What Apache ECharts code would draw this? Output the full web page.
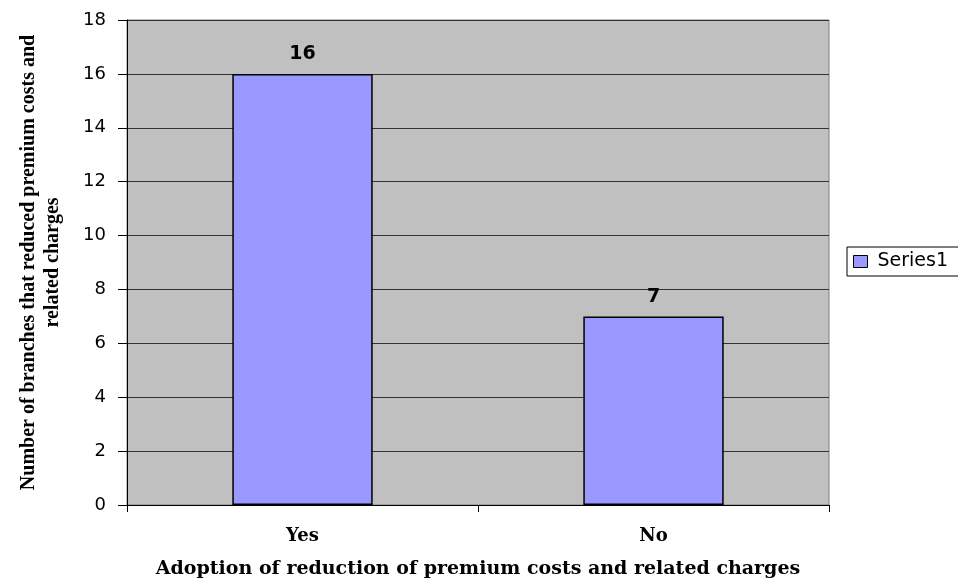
<!DOCTYPE html>
<html>
<head>
<meta charset="utf-8">
<script src="https://cdn.jsdelivr.net/npm/echarts@6/dist/echarts.min.js"></script>
<style>
  html, body { margin: 0; padding: 0; background: #fff; }
  #chart { width: 958px; height: 581px; }
</style>
</head>
<body>
<div id="chart"></div>
<script>
// chart data
const categories = ['Yes', 'No'];
const seriesName = 'Series1';
const values = [16, 7];
const yTicks = [0, 2, 4, 6, 8, 10, 12, 14, 16, 18];

const chart = echarts.init(document.getElementById('chart'));

const option = {
  animation: false,
  backgroundColor: '#ffffff',
  grid: {
    left: 127,
    right: 129,
    top: 20,
    bottom: 76,
    outerBoundsMode: 'none',
    containLabel: false,
    show: true,
    backgroundColor: '#C0C0C0',
    borderColor: '#808080',
    borderWidth: 1
  },
  legend: {
    data: [seriesName],
    left: 847,
    top: 247,
    orient: 'vertical',
    icon: 'rect',
    itemWidth: 14,
    itemHeight: 12,
    padding: [5, 20, 5, 6],
    borderColor: '#000',
    borderWidth: 1,
    backgroundColor: '#fff',
    textStyle: { fontFamily: 'DejaVu Sans', fontSize: 19, color: '#000', padding: [0, 0, 0, 5] },
    itemStyle: { borderColor: '#000', borderWidth: 1 }
  },
  xAxis: {
    type: 'category',
    data: categories,
    axisLine: { lineStyle: { color: '#000' } },
    axisTick: { show: true, length: 7, lineStyle: { color: '#000' } },
    axisLabel: {
      margin: 22,
      fontFamily: 'DejaVu Serif',
      fontWeight: 'bold',
      fontSize: 18,
      color: '#000'
    },
    name: 'Adoption of reduction of premium costs and related charges',
    nameLocation: 'middle',
    nameGap: 55,
    nameTextStyle: {
      fontFamily: 'DejaVu Serif',
      fontWeight: 'bold',
      fontSize: 19,
      color: '#000'
    }
  },
  yAxis: {
    type: 'value',
    min: yTicks[0],
    max: yTicks[yTicks.length - 1],
    interval: 2,
    axisLine: { show: true, lineStyle: { color: '#000' } },
    axisTick: { show: true, length: 9, lineStyle: { color: '#000' } },
    axisLabel: {
      margin: 21,
      fontFamily: 'DejaVu Sans',
      fontSize: 18,
      color: '#000'
    },
    splitLine: { lineStyle: { color: '#333', width: 1 } },
    name: 'Number of branches that reduced premium costs and\nrelated charges',
    nameLocation: 'middle',
    nameGap: 62,
    nameRotate: 90,
    nameTextStyle: {
      fontFamily: 'Times New Roman, Liberation Serif',
      fontWeight: 'bold',
      fontSize: 20,
      color: '#000',
      lineHeight: 24,
      align: 'center'
    }
  },
  series: [
    {
      name: seriesName,
      type: 'bar',
      data: values,
      barWidth: '40%',
      itemStyle: { color: '#9999FF', borderColor: '#000', borderWidth: 1.5 },
      label: {
        show: true,
        position: 'top',
        distance: 10,
        fontFamily: 'DejaVu Sans',
        fontWeight: 'bold',
        fontSize: 19,
        color: '#000'
      }
    }
  ]
};

chart.setOption(option);
</script>
</body>
</html>
